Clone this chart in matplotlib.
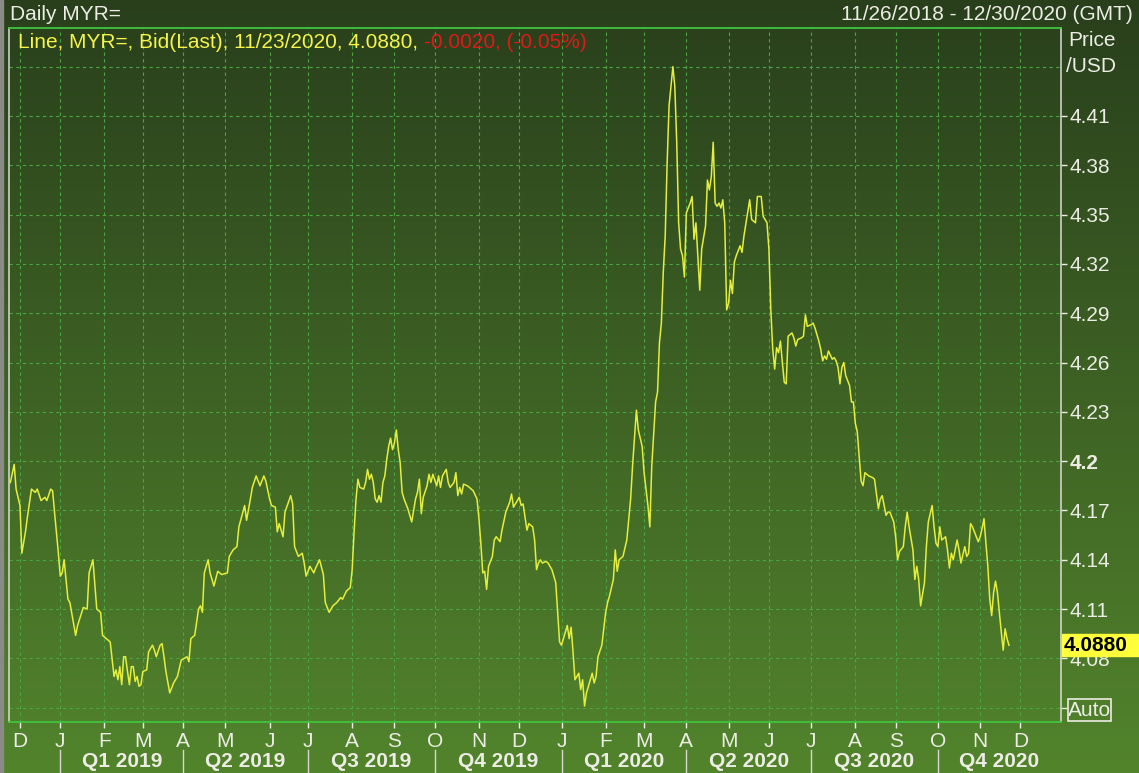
import numpy as np
import pandas as pd
import matplotlib
matplotlib.use("Agg")
import matplotlib.pyplot as plt
import matplotlib.transforms as mtransforms
from matplotlib.patches import Rectangle

plt.rcParams['font.family'] = ['Liberation Sans', 'DejaVu Sans']

START = '2018-11-26'
END = '2020-12-30'

# trading day number since START, and bid price (MYR per USD)
day = [0, 2, 3, 5, 6, 8, 9, 11, 13, 14, 16, 18, 19, 21, 22, 23, 25, 26, 27, 28,
       30, 31, 34, 35, 38, 40, 41, 43, 45, 47, 48, 50, 52, 54, 55, 56, 57, 58, 59, 60,
       61, 62, 63, 64, 65, 66, 67, 68, 69, 71, 72, 74, 75, 76, 78, 79, 80, 81, 83, 85,
       87, 89, 92, 93, 94, 96, 98, 99, 100, 101, 103, 104, 106, 108, 110, 113, 114, 116, 118, 119,
       122, 123, 125, 126, 128, 130, 132, 133, 135, 136, 138, 139, 140, 142, 143, 146, 147, 148, 150, 152,
       153, 154, 156, 158, 159, 161, 163, 164, 166, 168, 170, 172, 173, 175, 177, 178, 179, 180, 181, 182,
       184, 185, 186, 187, 188, 189, 190, 191, 192, 193, 194, 195, 196, 197, 198, 199, 200, 201, 202, 203,
       204, 205, 207, 208, 209, 211, 212, 213, 214, 215, 217, 218, 219, 220, 222, 223, 224, 225, 227, 228,
       229, 231, 232, 233, 234, 235, 236, 238, 239, 241, 243, 244, 245, 246, 247, 248, 249, 251, 252, 253,
       255, 256, 258, 260, 261, 262, 264, 265, 266, 267, 269, 270, 272, 273, 274, 275, 276, 277, 279, 280,
       282, 284, 285, 286, 287, 289, 290, 291, 292, 293, 294, 296, 297, 298, 299, 300, 302, 303, 304, 305,
       306, 308, 310, 311, 312, 314, 315, 316, 317, 319, 321, 323, 324, 326, 327, 329, 330, 332, 333, 334,
       336, 337, 338, 339, 340, 341, 342, 343, 345, 346, 347, 348, 349, 350, 351, 352, 354, 355, 356, 357,
       358, 359, 360, 362, 363, 364, 365, 366, 367, 368, 369, 370, 371, 372, 373, 374, 375, 376, 377, 378,
       380, 381, 382, 385, 386, 388, 389, 391, 392, 394, 395, 396, 397, 398, 399, 400, 401, 402, 403, 404,
       405, 406, 407, 408, 409, 410, 412, 413, 414, 415, 417, 418, 419, 421, 422, 423, 424, 425, 426, 428,
       429, 430, 431, 432, 433, 434, 435, 437, 438, 439, 440, 441, 442, 443, 444, 445, 447, 449, 450, 452,
       453, 454, 456, 457, 458, 460, 461, 462, 463, 465, 466, 467, 468, 470, 471, 472, 473, 474, 476, 477,
       478, 480, 481, 482, 483, 484, 485, 487, 488, 489, 490, 491, 493, 494, 495, 497, 498, 499, 500, 501,
       503, 504, 505, 506, 507, 508, 509, 510, 511, 512, 513, 514, 515, 516, 517, 518, 519, 520]
bid = [4.187, 4.198, 4.183, 4.173, 4.144, 4.158, 4.167, 4.183, 4.181, 4.183, 4.176, 4.178, 4.176, 4.183, 4.182, 4.169, 4.144, 4.130, 4.132, 4.140,
       4.116, 4.114, 4.094, 4.100, 4.111, 4.110, 4.132, 4.140, 4.110, 4.108, 4.094, 4.092, 4.090, 4.069, 4.073, 4.067, 4.075, 4.064, 4.081, 4.081,
       4.072, 4.064, 4.075, 4.075, 4.066, 4.069, 4.063, 4.064, 4.072, 4.073, 4.084, 4.088, 4.085, 4.081, 4.088, 4.089, 4.081, 4.072, 4.059, 4.065,
       4.069, 4.079, 4.081, 4.078, 4.092, 4.094, 4.110, 4.112, 4.108, 4.132, 4.140, 4.132, 4.124, 4.133, 4.131, 4.132, 4.142, 4.146, 4.148, 4.160,
       4.173, 4.164, 4.177, 4.184, 4.191, 4.185, 4.191, 4.188, 4.177, 4.173, 4.172, 4.157, 4.162, 4.154, 4.169, 4.179, 4.174, 4.148, 4.142, 4.144,
       4.138, 4.130, 4.136, 4.132, 4.135, 4.140, 4.131, 4.114, 4.108, 4.112, 4.114, 4.117, 4.116, 4.121, 4.123, 4.134, 4.157, 4.177, 4.189, 4.184,
       4.183, 4.187, 4.195, 4.189, 4.192, 4.187, 4.177, 4.175, 4.179, 4.175, 4.187, 4.191, 4.201, 4.209, 4.214, 4.207, 4.211, 4.219, 4.207, 4.199,
       4.181, 4.177, 4.171, 4.167, 4.163, 4.177, 4.181, 4.189, 4.168, 4.178, 4.185, 4.192, 4.187, 4.192, 4.185, 4.191, 4.184, 4.191, 4.195, 4.187,
       4.184, 4.187, 4.193, 4.179, 4.184, 4.180, 4.186, 4.185, 4.184, 4.182, 4.177, 4.165, 4.150, 4.132, 4.133, 4.122, 4.136, 4.142, 4.152, 4.154,
       4.151, 4.158, 4.169, 4.175, 4.180, 4.172, 4.176, 4.178, 4.173, 4.174, 4.158, 4.162, 4.160, 4.152, 4.134, 4.138, 4.140, 4.138, 4.139, 4.138,
       4.134, 4.126, 4.108, 4.090, 4.088, 4.096, 4.100, 4.092, 4.099, 4.084, 4.067, 4.071, 4.061, 4.067, 4.051, 4.059, 4.067, 4.071, 4.065, 4.069,
       4.081, 4.088, 4.108, 4.114, 4.118, 4.128, 4.146, 4.133, 4.140, 4.142, 4.152, 4.177, 4.197, 4.231, 4.219, 4.209, 4.193, 4.173, 4.160, 4.197,
       4.236, 4.242, 4.272, 4.284, 4.315, 4.337, 4.381, 4.416, 4.440, 4.428, 4.394, 4.345, 4.329, 4.325, 4.312, 4.351, 4.357, 4.361, 4.335, 4.345,
       4.325, 4.304, 4.329, 4.343, 4.371, 4.365, 4.373, 4.394, 4.357, 4.355, 4.357, 4.354, 4.359, 4.345, 4.292, 4.296, 4.310, 4.302, 4.321, 4.325,
       4.331, 4.327, 4.337, 4.359, 4.347, 4.345, 4.361, 4.361, 4.349, 4.345, 4.329, 4.292, 4.268, 4.256, 4.269, 4.266, 4.273, 4.260, 4.248, 4.247,
       4.276, 4.277, 4.278, 4.275, 4.270, 4.274, 4.275, 4.276, 4.289, 4.282, 4.283, 4.284, 4.281, 4.273, 4.268, 4.261, 4.264, 4.262, 4.267, 4.262,
       4.263, 4.261, 4.257, 4.247, 4.257, 4.260, 4.252, 4.246, 4.236, 4.236, 4.223, 4.218, 4.203, 4.188, 4.185, 4.193, 4.191, 4.190, 4.189, 4.171,
       4.177, 4.179, 4.167, 4.169, 4.169, 4.163, 4.154, 4.140, 4.145, 4.148, 4.160, 4.169, 4.160, 4.146, 4.128, 4.136, 4.128, 4.112, 4.126, 4.148,
       4.163, 4.173, 4.160, 4.150, 4.148, 4.160, 4.152, 4.154, 4.146, 4.135, 4.144, 4.140, 4.152, 4.146, 4.138, 4.148, 4.142, 4.144, 4.162, 4.160,
       4.154, 4.151, 4.154, 4.159, 4.165, 4.150, 4.136, 4.116, 4.106, 4.120, 4.127, 4.120, 4.108, 4.096, 4.085, 4.098, 4.092, 4.088]

price_ticks = [4.05, 4.08, 4.11, 4.14, 4.17, 4.2, 4.23, 4.26, 4.29, 4.32, 4.35, 4.38, 4.41]
price_labels = ['', '4.08', '4.11', '4.14', '4.17', '4.2', '4.23', '4.26', '4.29', '4.32', '4.35', '4.38', '4.41']
top_grid = 4.44

W, H = 1139, 773
BG_TOP = np.array([0x29, 0x3f, 0x1c]) / 255
BG_BOT = np.array([0x52, 0x84, 0x2c]) / 255
TXT = '#ecece4'
GRID = '#4aa542'
LINE = '#e4ee3e'

fig = plt.figure(figsize=(W / 100, H / 100), dpi=100)

# background gradient over the whole picture
bg = fig.add_axes([0, 0, 1, 1], zorder=-5)
t = np.linspace(0, 1, 256)[:, None]
grad = (BG_TOP[None, :] * (1 - t) + BG_BOT[None, :] * t)[:, None, :]
bg.imshow(grad, aspect='auto', extent=[0, 1, 0, 1])
bg.axis('off')
fig.patches.append(Rectangle((0, 0), 3, H, transform=None, color='#8a8a86', zorder=10))

ax = fig.add_axes([9 / W, 51 / H, 1052 / W, 694 / H])
ax.set_facecolor('none')

ax.plot(day, bid, color=LINE, lw=1.1, zorder=3)

dates = pd.bdate_range(START, END)
ax.set_xlim(-0.7, len(dates) - 0.9)
ax.set_ylim(4.0413, 4.4635)

# month starts on the trading-day axis
s = pd.Series(np.arange(len(dates)), index=dates)
firsts = s.groupby([dates.year, dates.month]).first()
month_pos, month_lab, q_pos, q_lab = [], [], [], []
for (yr, mo), pos in firsts.items():
    if dates[pos].day > 7:
        continue
    month_pos.append(pos)
    month_lab.append('JFMAMJJASOND'[mo - 1])
    if mo in (1, 4, 7, 10):
        q_pos.append(pos)
        q_lab.append('Q%d %d' % ((mo - 1) // 3 + 1, yr))

ax.set_xticks(month_pos)
ax.set_xticklabels(month_lab)
ax.set_yticks(price_ticks)
ax.set_yticklabels(price_labels)
ax.yaxis.tick_right()
ax.tick_params(axis='x', colors=TXT, labelsize=15, length=4, width=1, pad=3)
ax.tick_params(axis='y', colors=TXT, labelsize=15, length=4, width=1, pad=2)
for lab in ax.get_yticklabels():
    if lab.get_text() == '4.2':
        lab.set_fontweight('bold')

ax.grid(True, color=GRID, lw=0.8, linestyle=(0, (3, 3)))
ax.axhline(top_grid, color=GRID, lw=0.8, linestyle=(0, (3, 3)))

for side in ('top', 'bottom'):
    ax.spines[side].set_color('#3fc43f')
    ax.spines[side].set_linewidth(1.3)
for side in ('left', 'right'):
    ax.spines[side].set_color('#dcdcd4')
    ax.spines[side].set_linewidth(1.1)

# quarter band under the month letters
trans = mtransforms.blended_transform_factory(ax.transData, ax.transAxes)
right_end = ax.get_xlim()[1]
for i, pos in enumerate(q_pos):
    end = q_pos[i + 1] if i + 1 < len(q_pos) else right_end
    ax.plot([pos, pos], [-0.04, -0.075], color='#d8d8d0', lw=1, transform=trans, clip_on=False)
    ax.text((pos + end) / 2, -0.0575, q_lab[i], transform=trans, ha='center', va='center',
            fontsize=15, fontweight='bold', color=TXT)

# header texts
fig.text(10 / W, 1 - 14 / H, 'Daily MYR=', fontsize=15, color=TXT, va='center', ha='left')
fig.text(1133 / W, 1 - 14 / H, '11/26/2018 - 12/30/2020 (GMT)', fontsize=15, color=TXT,
         va='center', ha='right')
fig.text(1068 / W, 1 - 40 / H, 'Price', fontsize=15, color=TXT, va='center', ha='left')
fig.text(1066 / W, 1 - 66 / H, '/USD', fontsize=15, color=TXT, va='center', ha='left')

fig.canvas.draw()
r = fig.canvas.get_renderer()
t1 = fig.text(18 / W, 1 - 42 / H, 'Line, MYR=, Bid(Last), 11/23/2020, 4.0880, ', fontsize=15,
              color='#f4f44a', va='center', ha='left')
ext = t1.get_window_extent(renderer=r)
fig.text(ext.x1 / W, 1 - 42 / H, '-0.0020, (-0.05%)', fontsize=15, color='#e01818',
         va='center', ha='left')

# last value box
ylast = ax.transData.transform((0, bid[-1]))[1]
fig.patches.append(Rectangle((1062, ylast - 11), 77, 22, transform=None, color='#ffff3a', zorder=5))
fig.text(1064 / W, ylast / H, '%.4f' % bid[-1], fontsize=15, fontweight='bold', color='black',
         va='center', ha='left', zorder=6)

# Auto button
fig.patches.append(Rectangle((1068, 52), 43, 22, transform=None, fill=False, edgecolor=TXT, lw=1.2))
fig.text(1089.5 / W, 63 / H, 'Auto', fontsize=15, color=TXT, va='center', ha='center')

fig.savefig('out.png', dpi=100)
